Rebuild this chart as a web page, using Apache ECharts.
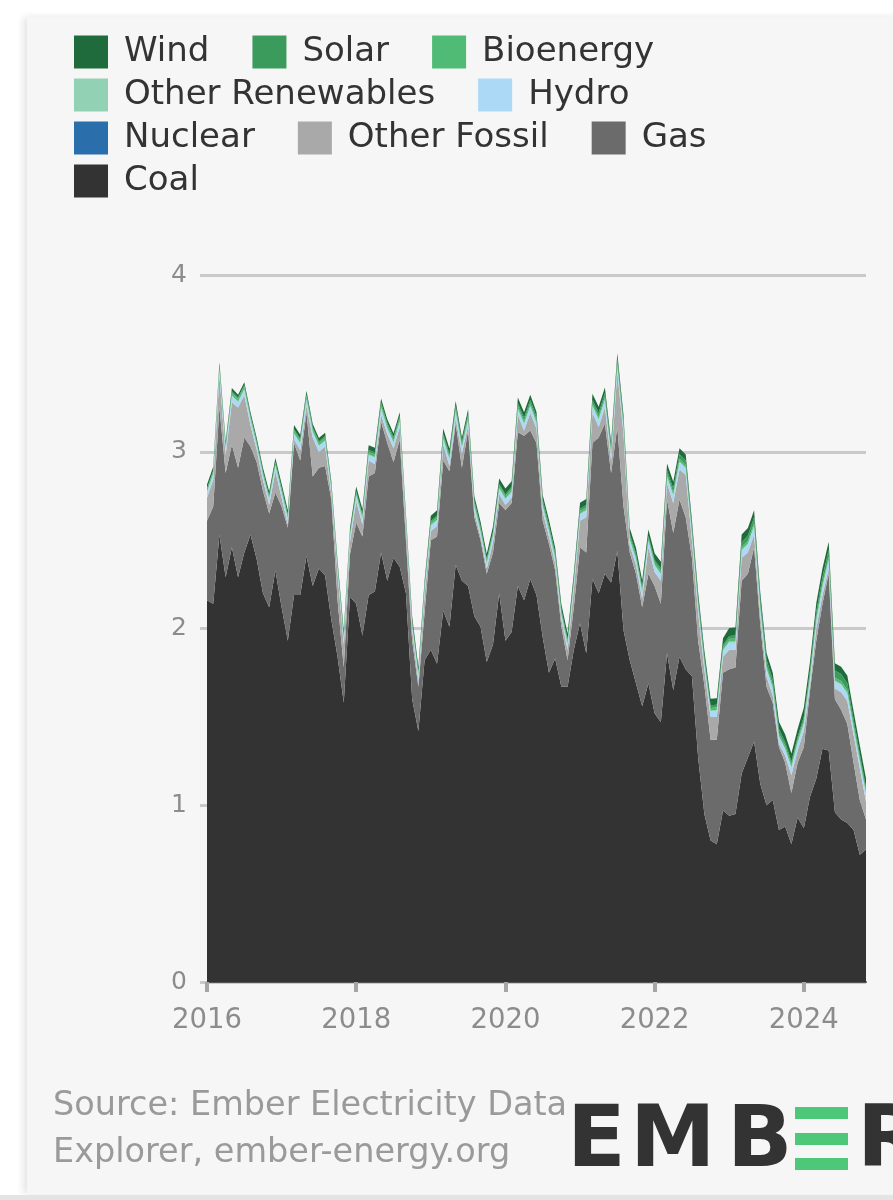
<!DOCTYPE html>
<html><head><meta charset="utf-8">
<script src="https://cdn.jsdelivr.net/npm/echarts@6/dist/echarts.min.js"></script>
<style>
html,body{margin:0;padding:0;background:#fff;width:893px;height:1200px;overflow:hidden;}
#panel{position:absolute;left:27px;top:17px;width:880px;height:1177px;background:#f6f6f6;box-shadow:-4px 0 7px rgba(0,0,0,0.10);}
#strip{position:absolute;left:0;top:1195px;width:893px;height:5px;background:#e4e4e4}
#chart{position:absolute;left:0;top:0;width:893px;height:1200px;}
</style></head><body>
<div id="panel"></div><div id="strip"></div><div id="chart"></div>
<script>
const FONT = '"DejaVu Sans", sans-serif';
const startYear = 2016, nMonths = 107;
const months = [];
for (let i = 0; i < nMonths; i++) {
  const y = startYear + Math.floor(i / 12), m = (i % 12) + 1;
  months.push(y + '-' + (m < 10 ? '0' + m : m));
}
const tickYears = ['2016', '2018', '2020', '2022', '2024'];
const yTicks = [0, 1, 2, 3, 4];

const coal = [
  2.16, 2.14, 2.53, 2.29, 2.46, 2.29, 2.43, 2.53, 2.39, 2.20, 2.12, 2.33,
  2.12, 1.93, 2.19, 2.19, 2.41, 2.24, 2.34, 2.30, 2.05, 1.84, 1.58, 2.18,
  2.14, 1.96, 2.19, 2.21, 2.43, 2.27, 2.40, 2.35, 2.20, 1.60, 1.42, 1.82,
  1.88, 1.80, 2.10, 2.01, 2.36, 2.27, 2.24, 2.07, 2.01, 1.81, 1.91, 2.20,
  1.93, 1.98, 2.24, 2.16, 2.28, 2.19, 1.95, 1.75, 1.83, 1.67, 1.67, 1.88,
  2.03, 1.86, 2.28, 2.20, 2.31, 2.26, 2.44, 1.99, 1.82, 1.69, 1.56, 1.69,
  1.52, 1.47, 1.86, 1.65, 1.84, 1.77, 1.73, 1.27, 0.95, 0.80, 0.78, 0.97,
  0.94, 0.95, 1.18, 1.27, 1.36, 1.12, 1.00, 1.03, 0.86, 0.88, 0.78, 0.93,
  0.87, 1.05, 1.15, 1.32, 1.31, 0.96, 0.92, 0.90, 0.86, 0.72, 0.75
];
const gas = [
  0.45, 0.55, 0.72, 0.59, 0.58, 0.62, 0.65, 0.50, 0.55, 0.58, 0.53, 0.44,
  0.57, 0.64, 0.86, 0.76, 0.81, 0.62, 0.57, 0.62, 0.68, 0.32, 0.20, 0.24,
  0.46, 0.56, 0.67, 0.67, 0.74, 0.78, 0.54, 0.72, 0.30, 0.33, 0.25, 0.27,
  0.62, 0.72, 0.85, 0.88, 0.80, 0.64, 0.88, 0.56, 0.49, 0.50, 0.52, 0.51,
  0.74, 0.73, 0.87, 0.93, 0.84, 0.86, 0.66, 0.73, 0.50, 0.34, 0.15, 0.24,
  0.43, 0.57, 0.77, 0.88, 0.85, 0.62, 0.70, 0.70, 0.61, 0.62, 0.56, 0.62,
  0.72, 0.67, 0.87, 0.89, 0.89, 0.86, 0.67, 0.66, 0.73, 0.57, 0.59, 0.78,
  0.83, 0.83, 1.09, 1.04, 1.10, 0.90, 0.67, 0.55, 0.47, 0.36, 0.29, 0.31,
  0.46, 0.60, 0.78, 0.82, 1.00, 0.64, 0.62, 0.56, 0.38, 0.31, 0.17
];
const otherFossil = [
  0.13, 0.15, 0.18, 0.10, 0.24, 0.34, 0.24, 0.12, 0.07, 0.06, 0.05, 0.12,
  0.05, 0.02, 0.02, 0.06, 0.04, 0.22, 0.09, 0.11, 0.03, 0.15, 0.13, 0.07,
  0.12, 0.07, 0.09, 0.05, 0.04, 0.05, 0.08, 0.07, 0.07, 0.06, 0.03, 0.10,
  0.05, 0.06, 0.09, 0.03, 0.03, 0.08, 0.03, 0.03, 0.02, 0.03, 0.06, 0.05,
  0.03, 0.03, 0.10, 0.03, 0.10, 0.08, 0.05, 0.04, 0.04, 0.04, 0.06, 0.10,
  0.15, 0.20, 0.17, 0.06, 0.09, 0.07, 0.31, 0.41, 0.04, 0.05, 0.05, 0.15,
  0.08, 0.13, 0.09, 0.17, 0.17, 0.24, 0.10, 0.16, 0.09, 0.13, 0.13, 0.09,
  0.11, 0.10, 0.13, 0.12, 0.07, 0.05, 0.06, 0.04, 0.02, 0.04, 0.10, 0.07,
  0.09, 0.03, 0.07, 0.05, 0.03, 0.06, 0.10, 0.13, 0.16, 0.18, 0.10
];
const nuclear = [
  0,0,0,0,0,0,0,0,0,0,0,0, 0,0,0,0,0,0,0,0,0,0,0,0, 0,0,0,0,0,0,0,0,0,0,0,0,
  0,0,0,0,0,0,0,0,0,0,0,0, 0,0,0,0,0,0,0,0,0,0,0,0, 0,0,0,0,0,0,0,0,0,0,0,0,
  0,0,0,0,0,0,0,0,0,0,0,0, 0,0,0,0,0,0,0,0,0,0,0,0, 0,0,0,0,0,0,0,0,0,0,0
];
const hydro = [
  0.030, 0.030, 0.030, 0.035, 0.035, 0.030, 0.030, 0.030, 0.025, 0.025, 0.030, 0.030,
  0.030, 0.030, 0.030, 0.035, 0.035, 0.030, 0.030, 0.030, 0.025, 0.025, 0.030, 0.030,
  0.030, 0.030, 0.030, 0.035, 0.035, 0.030, 0.030, 0.030, 0.025, 0.025, 0.030, 0.030,
  0.030, 0.030, 0.030, 0.035, 0.035, 0.030, 0.030, 0.030, 0.025, 0.025, 0.030, 0.030,
  0.030, 0.030, 0.030, 0.035, 0.035, 0.030, 0.030, 0.030, 0.025, 0.025, 0.030, 0.030,
  0.035, 0.035, 0.035, 0.040, 0.040, 0.035, 0.035, 0.035, 0.030, 0.030, 0.035, 0.035,
  0.035, 0.035, 0.035, 0.040, 0.040, 0.035, 0.035, 0.035, 0.030, 0.030, 0.035, 0.035,
  0.040, 0.040, 0.040, 0.045, 0.045, 0.040, 0.040, 0.040, 0.035, 0.035, 0.040, 0.040,
  0.040, 0.040, 0.040, 0.045, 0.045, 0.040, 0.040, 0.040, 0.035, 0.035, 0.040
];
const otherRenewables = [
  0.005, 0.005, 0.005, 0.005, 0.005, 0.005, 0.005, 0.005, 0.005, 0.005, 0.005, 0.005,
  0.005, 0.005, 0.005, 0.005, 0.005, 0.005, 0.005, 0.005, 0.005, 0.005, 0.005, 0.005,
  0.005, 0.005, 0.005, 0.005, 0.005, 0.005, 0.005, 0.005, 0.005, 0.005, 0.005, 0.005,
  0.005, 0.005, 0.005, 0.005, 0.005, 0.005, 0.005, 0.005, 0.005, 0.005, 0.005, 0.005,
  0.005, 0.005, 0.005, 0.005, 0.005, 0.005, 0.005, 0.005, 0.005, 0.005, 0.005, 0.005,
  0.005, 0.005, 0.005, 0.005, 0.005, 0.005, 0.005, 0.005, 0.005, 0.005, 0.005, 0.005,
  0.005, 0.005, 0.005, 0.005, 0.005, 0.005, 0.005, 0.005, 0.005, 0.005, 0.005, 0.005,
  0.006, 0.006, 0.006, 0.006, 0.006, 0.006, 0.006, 0.006, 0.006, 0.006, 0.006, 0.006,
  0.006, 0.006, 0.006, 0.006, 0.006, 0.006, 0.006, 0.006, 0.006, 0.006, 0.006
];
const bioenergy = [
  0.015, 0.015, 0.015, 0.015, 0.015, 0.015, 0.015, 0.015, 0.015, 0.015, 0.015, 0.015,
  0.015, 0.015, 0.015, 0.015, 0.015, 0.015, 0.015, 0.015, 0.015, 0.015, 0.015, 0.015,
  0.015, 0.015, 0.015, 0.015, 0.015, 0.015, 0.015, 0.015, 0.015, 0.015, 0.015, 0.015,
  0.015, 0.015, 0.015, 0.015, 0.015, 0.015, 0.015, 0.015, 0.015, 0.015, 0.015, 0.015,
  0.015, 0.015, 0.015, 0.015, 0.015, 0.015, 0.015, 0.015, 0.015, 0.015, 0.015, 0.015,
  0.015, 0.015, 0.015, 0.015, 0.015, 0.015, 0.015, 0.015, 0.015, 0.015, 0.015, 0.015,
  0.015, 0.015, 0.015, 0.015, 0.015, 0.015, 0.015, 0.015, 0.015, 0.015, 0.015, 0.015,
  0.016, 0.016, 0.016, 0.016, 0.016, 0.016, 0.016, 0.016, 0.016, 0.016, 0.016, 0.016,
  0.017, 0.017, 0.017, 0.017, 0.017, 0.017, 0.017, 0.017, 0.017, 0.017, 0.017
];
const solar = [
  0.003, 0.004, 0.005, 0.006, 0.007, 0.007, 0.007, 0.006, 0.005, 0.004, 0.003, 0.003,
  0.005, 0.006, 0.008, 0.009, 0.010, 0.010, 0.010, 0.009, 0.008, 0.006, 0.005, 0.005,
  0.007, 0.008, 0.010, 0.012, 0.013, 0.013, 0.013, 0.012, 0.010, 0.008, 0.007, 0.006,
  0.008, 0.010, 0.012, 0.014, 0.016, 0.016, 0.016, 0.015, 0.013, 0.010, 0.008, 0.008,
  0.010, 0.012, 0.015, 0.018, 0.019, 0.019, 0.019, 0.018, 0.015, 0.012, 0.010, 0.009,
  0.012, 0.014, 0.018, 0.021, 0.023, 0.023, 0.023, 0.021, 0.018, 0.014, 0.011, 0.010,
  0.013, 0.016, 0.020, 0.024, 0.026, 0.027, 0.027, 0.025, 0.021, 0.016, 0.013, 0.012,
  0.016, 0.019, 0.025, 0.029, 0.032, 0.033, 0.033, 0.030, 0.025, 0.020, 0.016, 0.014,
  0.018, 0.023, 0.030, 0.035, 0.038, 0.039, 0.039, 0.036, 0.030, 0.024, 0.019
];
const wind = [
  0.022, 0.021, 0.022, 0.020, 0.018, 0.016, 0.016, 0.017, 0.018, 0.020, 0.022, 0.022,
  0.024, 0.023, 0.024, 0.022, 0.020, 0.018, 0.018, 0.019, 0.020, 0.022, 0.024, 0.024,
  0.027, 0.026, 0.027, 0.025, 0.023, 0.021, 0.021, 0.022, 0.023, 0.025, 0.027, 0.027,
  0.030, 0.029, 0.030, 0.028, 0.026, 0.024, 0.024, 0.025, 0.026, 0.028, 0.030, 0.030,
  0.032, 0.031, 0.032, 0.030, 0.028, 0.026, 0.026, 0.027, 0.028, 0.030, 0.032, 0.032,
  0.035, 0.034, 0.035, 0.033, 0.031, 0.029, 0.029, 0.030, 0.031, 0.033, 0.035, 0.035,
  0.038, 0.037, 0.038, 0.036, 0.034, 0.032, 0.032, 0.033, 0.034, 0.036, 0.038, 0.038,
  0.045, 0.044, 0.045, 0.043, 0.040, 0.037, 0.037, 0.038, 0.040, 0.043, 0.045, 0.046,
  0.050, 0.049, 0.050, 0.048, 0.045, 0.042, 0.042, 0.043, 0.045, 0.048, 0.050
];

const seriesDefs = [
  ['Coal', coal, '#333333'],
  ['Gas', gas, '#6b6b6b'],
  ['Other Fossil', otherFossil, '#a9a9a9'],
  ['Nuclear', nuclear, '#2a6fab'],
  ['Hydro', hydro, '#acd9f5'],
  ['Other Renewables', otherRenewables, '#93d1b5'],
  ['Bioenergy', bioenergy, '#4fbb75'],
  ['Solar', solar, '#3a9b5c'],
  ['Wind', wind, '#1f6b3b']
];

const chart = echarts.init(document.getElementById('chart'), null, {renderer: 'canvas'});
const legendBase = {
  icon: 'rect', itemWidth: 34, itemHeight: 33, itemGap: 43, left: 74, orient: 'horizontal',
  selectedMode: false, padding: 0,
  textStyle: {fontSize: 34, color: '#333333', fontFamily: FONT, padding: [0, 0, 0, 11]}
};
const option = {
  animation: false,
  backgroundColor: 'transparent',
  legend: [
    Object.assign({}, legendBase, {top: 35, data: ['Wind', 'Solar', 'Bioenergy']}),
    Object.assign({}, legendBase, {top: 78, data: ['Other Renewables', 'Hydro']}),
    Object.assign({}, legendBase, {top: 121, data: ['Nuclear', 'Other Fossil', 'Gas']}),
    Object.assign({}, legendBase, {top: 164, data: ['Coal']})
  ],
  grid: {left: 207, right: 27, top: 275, bottom: 218, containLabel: false},
  xAxis: {
    type: 'category', data: months, boundaryGap: false,
    axisLine: {show: true, lineStyle: {color: '#555555', width: 2}},
    axisTick: {show: true, length: 10, interval: (i) => i % 24 === 0,
      lineStyle: {color: '#a6a6a6', width: 4}},
    axisLabel: {interval: (i) => i % 24 === 0, formatter: (v) => tickYears[tickYears.indexOf(v.slice(0, 4))],
      color: '#8c8c8c', fontSize: 27.5, fontFamily: FONT, margin: 25},
    splitLine: {show: false}
  },
  yAxis: {
    type: 'value', min: yTicks[0], max: yTicks[yTicks.length - 1], interval: 1,
    axisLine: {show: false},
    axisTick: {show: true, length: 7, lineStyle: {color: '#c9c9c9', width: 3}},
    axisLabel: {color: '#8c8c8c', fontSize: 25, fontFamily: FONT, margin: 20},
    splitLine: {show: true, lineStyle: {color: '#c9c9c9', width: 3}}
  },
  series: seriesDefs.map(([name, data, color]) => ({
    name, type: 'line', stack: 'total', data, symbol: 'none', showSymbol: false,
    lineStyle: {width: 0, color}, itemStyle: {color},
    areaStyle: {color, opacity: 1}, emphasis: {disabled: true}, silent: true
  })),
  graphic: [
    {type: 'text', x: 53, y: 1106, style: {text: 'Source: Ember Electricity Data', fill: '#9a9a9a',
      font: '33.5px ' + FONT, verticalAlign: 'middle'}},
    {type: 'text', x: 53, y: 1153, style: {text: 'Explorer, ember-energy.org', fill: '#9a9a9a',
      font: '33.5px ' + FONT, verticalAlign: 'middle'}},
    {type: 'text', x: 567, y: 1144, style: {text: 'E', fill: '#333333', font: 'bold 86px ' + FONT, verticalAlign: 'middle'}},
    {type: 'text', x: 630, y: 1144, style: {text: 'M', fill: '#333333', font: 'bold 86px ' + FONT, verticalAlign: 'middle'}},
    {type: 'text', x: 727, y: 1144, style: {text: 'B', fill: '#333333', font: 'bold 86px ' + FONT, verticalAlign: 'middle'}},
    {type: 'rect', shape: {x: 795, y: 1107, width: 53, height: 12}, style: {fill: '#4cc878'}},
    {type: 'rect', shape: {x: 795, y: 1133, width: 53, height: 12}, style: {fill: '#4cc878'}},
    {type: 'rect', shape: {x: 795, y: 1158, width: 53, height: 12}, style: {fill: '#4cc878'}},
    {type: 'text', x: 857, y: 1144, style: {text: 'R', fill: '#333333', font: 'bold 86px ' + FONT, verticalAlign: 'middle'}}
  ]
};
chart.setOption(option);
</script></body></html>
